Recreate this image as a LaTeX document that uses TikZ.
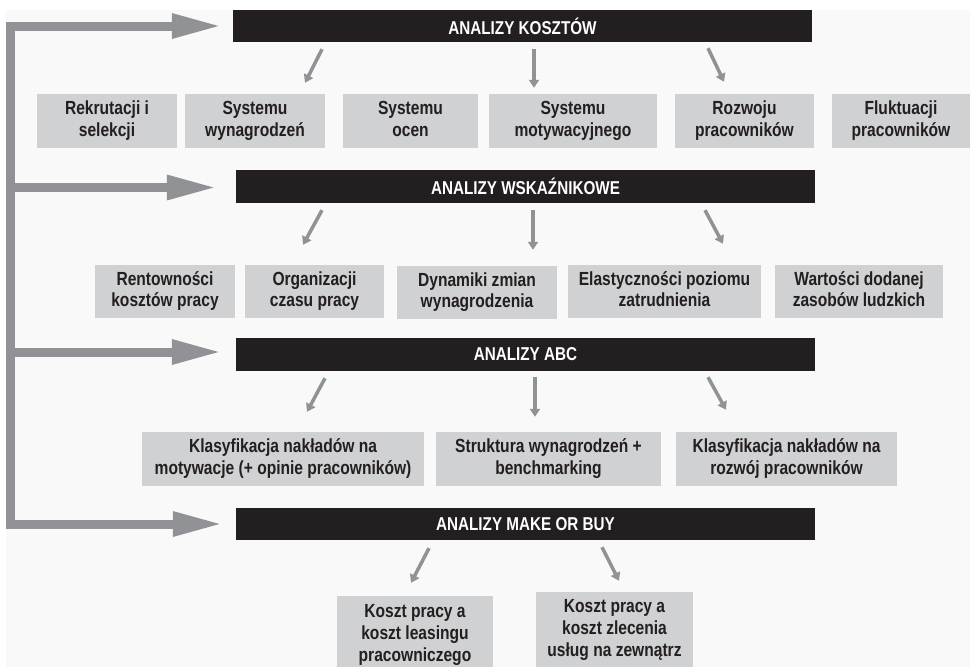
\documentclass[tikz,border=0pt]{standalone}
\usepackage{fontspec}
\setmainfont{Liberation Sans}[FakeStretch=0.82]
\usetikzlibrary{arrows.meta}
\definecolor{arrgray}{RGB}{145,146,150}
\definecolor{boxgray}{RGB}{208,209,211}
\definecolor{hdrblack}{RGB}{35,31,32}
\definecolor{panel}{RGB}{249,249,249}
\tikzset{
  hdr/.style={fill=hdrblack, text=white, inner sep=0pt, minimum width=579pt, minimum height=33pt,
    font=\fontsize{18.6}{21.5}\selectfont\bfseries},
  gbox/.style={fill=boxgray, text=hdrblack, inner sep=0pt, align=center,
    font=\fontsize{19}{21.5}\selectfont\bfseries},
  sarrow/.style={draw=arrgray, line width=3.5pt, -{Triangle[width=10pt,length=8pt]}},
  barrow/.style={draw=arrgray, line width=9pt, line join=miter},
  bigtip/.style={-{Triangle[width=23pt,length=50pt]}}
}
\begin{document}
\begin{tikzpicture}[x=1pt,y=-1pt]
\useasboundingbox (0,0) rectangle (970,667);
\clip (0,0) rectangle (970,667);
\fill[white] (0,0) rectangle (970,667);
\fill[panel] (6,10) rectangle (970,667);

% headers
\node[hdr, minimum height=32pt] (h1) at (522.5,26) {ANALIZY KOSZTÓW};
\node[hdr] (h2) at (525.5,186.5) {ANALIZY WSKAŹNIKOWE};
\node[hdr] (h3) at (525.5,354.5) {ANALIZY ABC};
\node[hdr, minimum height=32pt] (h4) at (525.5,524) {ANALIZY MAKE OR BUY};

% row 1
\node[gbox, minimum width=140pt, minimum height=54pt] (r1a) at (107,121) {\strut Rekrutacji i\\selekcji\strut};
\node[gbox, minimum width=140pt, minimum height=54pt] (r1b) at (255,121) {\strut Systemu\\wynagrodzeń\strut};
\node[gbox, minimum width=135pt, minimum height=54pt] (r1c) at (410.5,121) {\strut Systemu\\ocen\strut};
\node[gbox, minimum width=168pt, minimum height=54pt] (r1d) at (573,121) {\strut Systemu\\motywacyjnego\strut};
\node[gbox, minimum width=139pt, minimum height=54pt] (r1e) at (744.5,121) {\strut Rozwoju\\pracowników\strut};
\node[gbox, minimum width=138pt, minimum height=54pt] (r1f) at (901,121) {\strut Fluktuacji\\pracowników\strut};

% row 2
\node[gbox, minimum width=140pt, minimum height=53pt] (r2a) at (165,291.5) {\strut Rentowności\\kosztów pracy\strut};
\node[gbox, minimum width=139pt, minimum height=53pt] (r2b) at (314.5,291.5) {\strut Organizacji\\czasu pracy\strut};
\node[gbox, minimum width=160pt, minimum height=53pt] (r2c) at (477,292.5) {\strut Dynamiki zmian\\wynagrodzenia\strut};
\node[gbox, minimum width=193pt, minimum height=53pt] (r2d) at (664.5,291.5) {\strut Elastyczności poziomu\\zatrudnienia\strut};
\node[gbox, minimum width=168pt, minimum height=53pt] (r2e) at (859,291.5) {\strut Wartości dodanej\\zasobów ludzkich\strut};

% row 3
\node[gbox, minimum width=282pt, minimum height=54pt] (r3a) at (283,459) {\strut Klasyfikacja nakładów na\\motywacje (+ opinie pracowników)\strut};
\node[gbox, minimum width=225pt, minimum height=54pt] (r3b) at (548.5,459) {\strut Struktura wynagrodzeń +\\benchmarking\strut};
\node[gbox, minimum width=221pt, minimum height=54pt] (r3c) at (786.5,459) {\strut Klasyfikacja nakładów na\\rozwój pracowników\strut};

% row 4
\node[gbox, minimum width=156pt, minimum height=78pt, font=\fontsize{19}{22}\selectfont\bfseries] (r4a) at (415,635) {\strut Koszt pracy a\\koszt leasingu\\pracowniczego\strut};
\node[gbox, minimum width=157pt, minimum height=76pt, font=\fontsize{19}{22}\selectfont\bfseries] (r4b) at (614.5,630) {\strut Koszt pracy a\\koszt zlecenia\\usług na zewnątrz\strut};

% big left arrows
\coordinate (bartop) at (10,25.5);
\coordinate (barbot) at (10,524);
\draw[barrow, bigtip] (barbot) |- ([xshift=-11pt]h1.west);
\draw[barrow, bigtip] (bartop) |- ([xshift=-19pt]h2.west |- 0,187.5);
\draw[barrow, bigtip] (bartop) |- ([xshift=-14pt]h3.west |- 0,352);
\draw[barrow, bigtip] (bartop) |- ([xshift=-13pt]h4.west);

% small arrows row 1
\draw[sarrow] ([shift={(-200.5,7)}]h1.south) -- ([shift={(50,-11)}]r1b.north);
\draw[sarrow] ([shift={(11.5,7)}]h1.south) -- ([shift={(-39,-6)}]r1d.north);
\draw[sarrow] ([shift={(185.5,6)}]h1.south) -- ([shift={(-20.5,-12)}]r1e.north);
% row 2
\draw[sarrow] ([shift={(-203.5,7)}]h2.south) -- ([shift={(-11.5,-20)}]r2b.north);
\draw[sarrow] ([shift={(7.5,7)}]h2.south) -- ([shift={(56,-16)}]r2c.north);
\draw[sarrow] ([shift={(179.5,7)}]h2.south) -- ([shift={(58.5,-21)}]r2d.north);
% row 3
\draw[sarrow] ([shift={(-200.5,7)}]h3.south) -- ([shift={(24,-20)}]r3a.north);
\draw[sarrow] ([shift={(9.5,6)}]h3.south) -- ([shift={(-13.5,-15)}]r3b.north);
\draw[sarrow] ([shift={(182.5,6)}]h3.south) -- ([shift={(-60.5,-22)}]r3c.north);
% row 4
\draw[sarrow] ([shift={(-96.5,8)}]h4.south) -- ([shift={(-4,-13)}]r4a.north);
\draw[sarrow] ([shift={(76.5,7)}]h4.south) -- ([shift={(4.5,-11)}]r4b.north);
\end{tikzpicture}
\end{document}
